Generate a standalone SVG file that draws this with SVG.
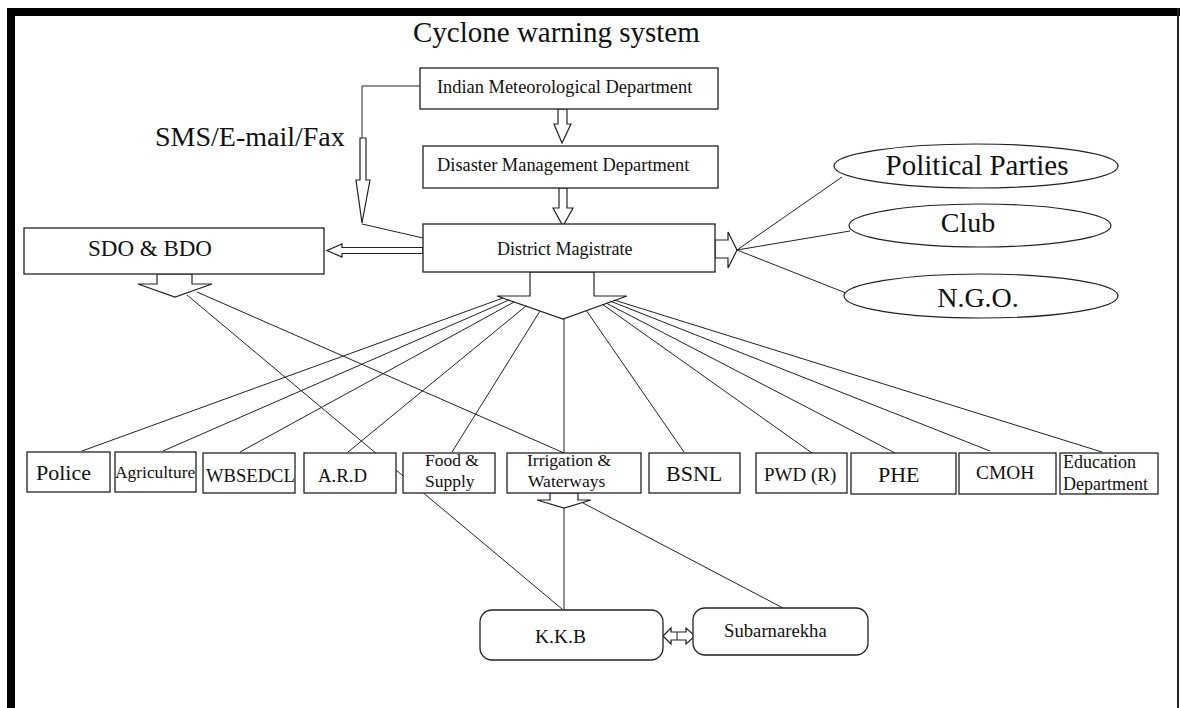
<svg xmlns="http://www.w3.org/2000/svg" width="1180" height="708" viewBox="0 0 1180 708" font-family="'Liberation Serif', 'Times New Roman', serif">
<style>
  text { font-family: "Liberation Serif", "Times New Roman", serif; fill: #111; }
  .box { fill: #fff; stroke: #222; stroke-width: 1.3; }
  .ell { fill: #fff; stroke: #222; stroke-width: 1.2; }
  .ln { fill: none; stroke: #222; stroke-width: 1; }
  .arr { fill: #fff; stroke: #222; stroke-width: 1.2; stroke-linejoin: miter; }
</style>
<rect x="0" y="0" width="1180" height="708" fill="#fff"/>
<!-- frame -->
<rect x="7" y="8" width="8" height="700" fill="#000"/>
<rect x="7" y="8" width="1173" height="8" fill="#000"/>
<rect x="1177" y="8" width="2" height="700" fill="#222"/>

<g id="title">
  <text x="413" y="42" font-size="29">Cyclone warning system</text>
</g>
<g id="sms-label">
  <text x="155" y="146" font-size="28">SMS/E-mail/Fax</text>
</g>

<g id="connectors">
  <!-- SMS path -->
  <polyline class="ln" points="420,86 362,86 362,138"/>
  <polygon class="arr" points="360,138 366,138 366,180 370,180 362,223 356,180 360,180"/>
  <line class="ln" x1="362" y1="224" x2="423" y2="238"/>
  <!-- IMD -> DMD -->
  <polygon class="arr" points="558,109 567,109 567,124 571,124 562,143 554,124 558,124"/>
  <!-- DMD -> DM -->
  <polygon class="arr" points="559,188 567,188 567,208 573,208 563,226 553,208 559,208"/>
  <!-- DM -> SDO -->
  <polygon class="arr" points="423,247.5 342,247.5 342,244 327,250.5 342,257 342,253.5 423,253.5"/>
  <!-- DM -> right ellipses -->
  <polygon class="arr" points="715,240 728,240 728,232 737,250 728,268 728,258 715,258"/>
  <line class="ln" x1="737" y1="250" x2="842" y2="177"/>
  <line class="ln" x1="737" y1="250" x2="850" y2="231"/>
  <line class="ln" x1="737" y1="250" x2="846" y2="293"/>
  <!-- DM big down arrow -->
  <polygon class="arr" points="530,272 594,272 594,296 627,296 563,319 497,296 530,296"/>
  <!-- SDO down arrow -->
  <polygon class="arr" points="157,274 192,274 192,284 212,284 175,297 138,284 157,284"/>
  <!-- fan lines from DM -->
  <line class="ln" x1="503" y1="298" x2="82" y2="451"/>
  <line class="ln" x1="509" y1="300" x2="163" y2="451"/>
  <line class="ln" x1="514" y1="302" x2="240" y2="452"/>
  <line class="ln" x1="526" y1="306" x2="348" y2="452"/>
  <line class="ln" x1="540" y1="311" x2="452" y2="452"/>
  <line class="ln" x1="564" y1="319" x2="564" y2="453"/>
  <line class="ln" x1="586" y1="310" x2="684" y2="452"/>
  <line class="ln" x1="602" y1="304" x2="812" y2="453"/>
  <line class="ln" x1="606" y1="303" x2="895" y2="453"/>
  <line class="ln" x1="610" y1="301" x2="990" y2="451"/>
  <line class="ln" x1="614" y1="300" x2="1102" y2="452"/>
  <!-- SDO lines -->
  <line class="ln" x1="197" y1="292" x2="564" y2="453"/>
  <line class="ln" x1="187" y1="295" x2="562" y2="609"/>
  <!-- Irrigation down arrow -->
  <polygon class="arr" points="550,493 578,493 578,500 591,500 564,508 537,500 550,500"/>
  <line class="ln" x1="564" y1="508" x2="564" y2="610"/>
  <line class="ln" x1="583" y1="503" x2="783" y2="608"/>
  <!-- KKB <-> Subarnarekha -->
  <polygon class="arr" points="663,636 671,628 671,632 686,632 686,628 695,636 686,644 686,640 671,640 671,644"/>
  <line class="ln" x1="677" y1="632" x2="677" y2="640"/>
</g>

<g id="imd">
  <rect class="box" x="420" y="68" width="298" height="41"/>
  <text x="437" y="93" font-size="18.4">Indian Meteorological Department</text>
</g>
<g id="dmd">
  <rect class="box" x="423" y="146" width="295" height="42"/>
  <text x="437" y="171" font-size="18.4">Disaster Management Department</text>
</g>
<g id="dm">
  <rect class="box" x="423" y="224" width="292" height="48"/>
  <text x="497" y="255" font-size="18">District Magistrate</text>
</g>
<g id="sdo-bdo">
  <rect class="box" x="24" y="228" width="300" height="46"/>
  <text x="88" y="256" font-size="23">SDO &amp; BDO</text>
</g>
<g id="political-parties">
  <ellipse class="ell" cx="976" cy="166" rx="142" ry="22"/>
  <text x="977" y="175" font-size="29" text-anchor="middle">Political Parties</text>
</g>
<g id="club">
  <ellipse class="ell" cx="980" cy="225.5" rx="131" ry="21.5"/>
  <text x="968" y="232" font-size="28" text-anchor="middle">Club</text>
</g>
<g id="ngo">
  <ellipse class="ell" cx="981" cy="296" rx="137" ry="22"/>
  <text x="978" y="307" font-size="28" text-anchor="middle">N.G.O.</text>
</g>

<g id="police">
  <rect class="box" x="27" y="452" width="83" height="40"/>
  <text x="36" y="480" font-size="22">Police</text>
</g>
<g id="agriculture">
  <rect class="box" x="115" y="452" width="81" height="40"/>
  <text x="115" y="478" font-size="17.4">Agriculture</text>
</g>
<g id="wbsedcl">
  <rect class="box" x="203" y="453" width="92" height="40"/>
  <text x="206" y="482" font-size="18.6">WBSEDCL</text>
</g>
<g id="ard">
  <rect class="box" x="304" y="453" width="92" height="40"/>
  <text x="318" y="482" font-size="18.8">A.R.D</text>
</g>
<g id="food-supply">
  <rect class="box" x="403" y="453" width="92" height="40"/>
  <text x="425" y="466" font-size="17.5">Food &amp;</text>
  <text x="425" y="487" font-size="17.5">Supply</text>
</g>
<g id="irrigation">
  <rect class="box" x="507" y="453" width="134" height="40"/>
  <text x="527" y="466" font-size="17.5">Irrigation &amp;</text>
  <text x="528" y="487" font-size="17.5">Waterways</text>
</g>
<g id="bsnl">
  <rect class="box" x="649" y="453" width="91" height="40"/>
  <text x="666" y="481" font-size="22">BSNL</text>
</g>
<g id="pwd">
  <rect class="box" x="756" y="453" width="91" height="40"/>
  <text x="764" y="481" font-size="19">PWD (R)</text>
</g>
<g id="phe">
  <rect class="box" x="851" y="453" width="105" height="41"/>
  <text x="878" y="482" font-size="22">PHE</text>
</g>
<g id="cmoh">
  <rect class="box" x="959" y="453" width="97" height="41"/>
  <text x="976" y="479" font-size="19.4">CMOH</text>
</g>
<g id="education">
  <rect class="box" x="1060" y="453" width="98" height="41"/>
  <text x="1063" y="468" font-size="18">Education</text>
  <text x="1063" y="490" font-size="18">Department</text>
</g>

<g id="kkb">
  <rect class="box" x="480" y="610" width="183" height="50" rx="12" ry="12"/>
  <text x="535" y="643" font-size="19.5">K.K.B</text>
</g>
<g id="subarnarekha">
  <rect class="box" x="693" y="608" width="175" height="47" rx="12" ry="12"/>
  <text x="724" y="637" font-size="18.7">Subarnarekha</text>
</g>
</svg>
